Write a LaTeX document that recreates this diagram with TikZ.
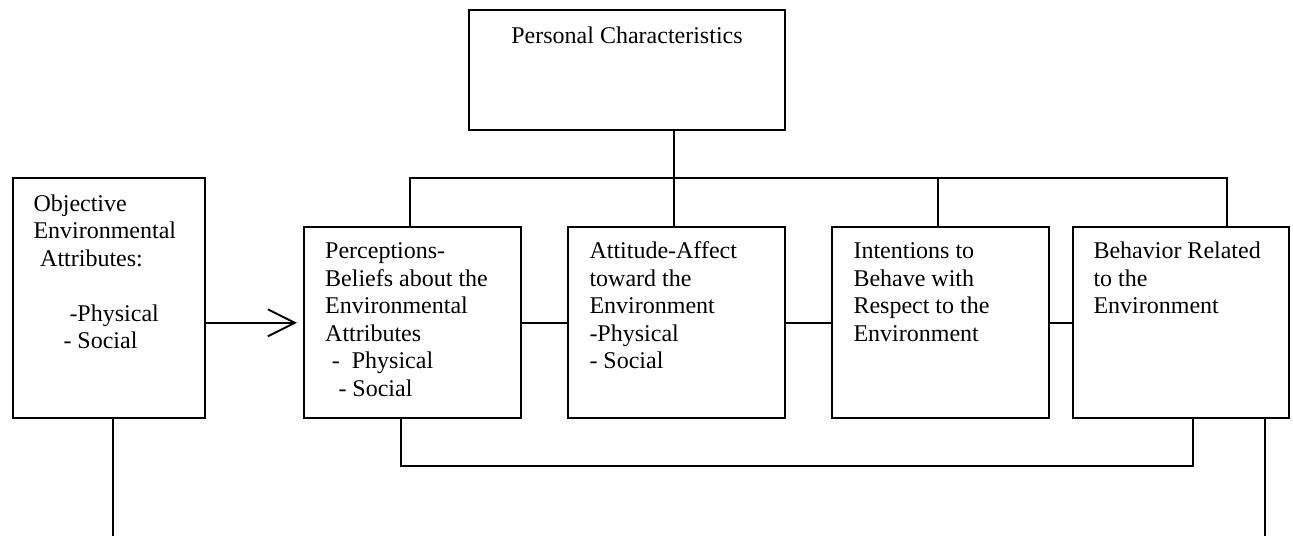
\documentclass[tikz,border=0pt]{standalone}
\usepackage{fontspec}
\setmainfont{Liberation Serif}
\usetikzlibrary{arrows.meta}
\begin{document}
\begin{tikzpicture}[x=1pt,y=-1pt,
  box/.style={draw, line width=2pt, outer sep=0pt, inner sep=0pt},
  wire/.style={line width=1.9pt},
  txt/.style={anchor=north west, inner sep=0pt, align=left, font=\fontsize{24}{27.5}\selectfont}]
\fill[white] (0,0) rectangle (1293,536);
\useasboundingbox (0,0) rectangle (1293,536);

% boxes
\node[box, minimum width=316pt, minimum height=120pt] (pc) at (627,70) {};
\node[box, minimum width=192.3pt, minimum height=240pt] (obj) at (108.85,298.3) {};
\node[box, minimum width=216.7pt, minimum height=191.6pt] (per) at (412.35,322.5) {};
\node[box, minimum width=216.7pt, minimum height=191.6pt] (att) at (676.65,322.5) {};
\node[box, minimum width=216.7pt, minimum height=191.6pt] (int) at (940.65,322.5) {};
\node[box, minimum width=216.3pt, minimum height=191.6pt] (beh) at (1180.85,322.5) {};

% box texts
\node[txt, anchor=north, align=center] (pct) at ([yshift=-14pt]pc.north) {\strut Personal Characteristics};
\node[txt] (objt) at ([xshift=20.6pt,yshift=-13.45pt]obj.north west)
  {\strut Objective\\Environmental\\\hspace*{6.7pt}Attributes:\\\mbox{}\\\hspace*{36pt}-Physical\\\hspace*{30pt}- Social};
\node[txt] (pert) at ([xshift=21pt,yshift=-12.35pt]per.north west)
  {\strut Perceptions-\\Beliefs about the\\Environmental\\Attributes\\\hspace*{6.7pt}-\hspace*{12pt}Physical\\\hspace*{13.3pt}- Social};
\node[txt] (attt) at ([xshift=21pt,yshift=-12.35pt]att.north west)
  {\strut Attitude-Affect\\toward the\\Environment\\-Physical\\- Social};
\node[txt] (intt) at ([xshift=21pt,yshift=-12.35pt]int.north west)
  {\strut Intentions to\\Behave with\\Respect to the\\Environment};
\node[txt] (beht) at ([xshift=20.6pt,yshift=-12.35pt]beh.north west)
  {\strut Behavior Related\\to the\\Environment};

% connector positions
\coordinate (cpc) at (674.3,0);
\coordinate (cper) at (410,0);
\coordinate (cint) at (938.3,0);
\coordinate (cbeh) at (1226.7,0);
\coordinate (bus) at (0,178.3);
\coordinate (arr) at (0,322.8);
\coordinate (fbl) at (400.7,466);
\coordinate (fbr) at (1193.3,466);
\coordinate (objdrop) at (112.7,536);
\coordinate (behdrop) at (1265,536);

% personal characteristics feed the four boxes
\draw[wire] (pc.south -| cpc) -- (att.north -| cpc);
\draw[wire] (per.north -| cper) |- (bus -| cbeh) -- (beh.north -| cbeh);
\draw[wire] (bus -| cint) -- (int.north -| cint);

% main chain
\draw[wire, -{Straight Barb[length=27pt,width=27pt]}, shorten >=7pt] (obj.east |- arr) -- (per.west |- arr);
\draw[wire] (per.east |- arr) -- (att.west |- arr);
\draw[wire] (att.east |- arr) -- (int.west |- arr);
\draw[wire] (int.east |- arr) -- (beh.west |- arr);

% feedback from behavior to perceptions
\draw[wire] (per.south -| fbl) -- (fbl) -- (fbr) -- (beh.south -| fbr);

% open ends at the bottom
\draw[wire] (obj.south -| objdrop) -- (objdrop);
\draw[wire] (beh.south -| behdrop) -- (behdrop);
\end{tikzpicture}
\end{document}
